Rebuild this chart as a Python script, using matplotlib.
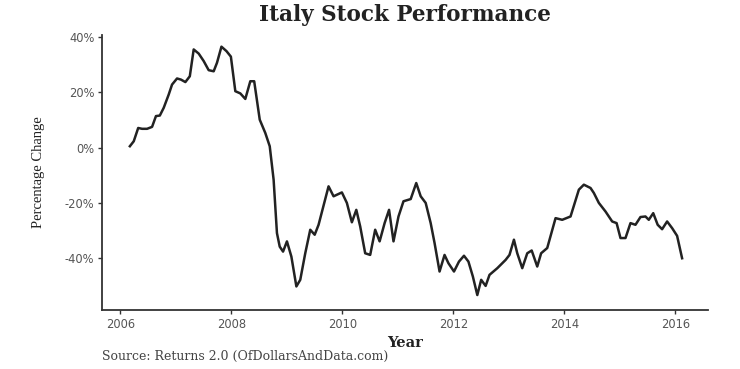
import matplotlib
matplotlib.use('Agg')
import matplotlib.pyplot as plt
from matplotlib.ticker import FuncFormatter

# decimal year and cumulative percentage change
years = [2006.17, 2006.24, 2006.32, 2006.39, 2006.48, 2006.57, 2006.64, 2006.71,
         2006.78, 2006.87, 2006.93, 2007.02, 2007.09, 2007.17, 2007.25, 2007.32,
         2007.41, 2007.50, 2007.59, 2007.68, 2007.74, 2007.82, 2007.91, 2007.99,
         2008.07, 2008.16, 2008.25, 2008.34, 2008.41, 2008.51, 2008.61, 2008.69,
         2008.76, 2008.82, 2008.87, 2008.93, 2009.00, 2009.08, 2009.17, 2009.24,
         2009.33, 2009.42, 2009.50, 2009.57, 2009.75, 2009.84, 2009.99, 2010.08,
         2010.17, 2010.25, 2010.32, 2010.41, 2010.50, 2010.59, 2010.67, 2010.76,
         2010.84, 2010.92, 2011.01, 2011.10, 2011.23, 2011.33, 2011.41, 2011.50,
         2011.59, 2011.66, 2011.75, 2011.84, 2011.91, 2012.01, 2012.10, 2012.19,
         2012.27, 2012.35, 2012.43, 2012.50, 2012.58, 2012.65, 2012.79, 2012.94,
         2013.01, 2013.09, 2013.15, 2013.24, 2013.33, 2013.41, 2013.51, 2013.58,
         2013.69, 2013.84, 2013.96, 2014.11, 2014.26, 2014.35, 2014.47, 2014.53,
         2014.62, 2014.74, 2014.86, 2014.94, 2015.01, 2015.10, 2015.19, 2015.28,
         2015.37, 2015.46, 2015.52, 2015.60, 2015.68, 2015.76, 2015.85, 2015.94,
         2016.03, 2016.12]
pct_change = [0.5, 2.3, 7.1, 6.8, 6.8, 7.5, 11.4, 11.6,
              14.4, 19.2, 22.8, 25.0, 24.6, 23.7, 25.8, 35.5,
              34.0, 31.3, 28.0, 27.6, 30.7, 36.5, 34.9, 32.9,
              20.4, 19.6, 17.6, 24.0, 24.0, 10.1, 5.3, 0.5,
              -11.6, -30.9, -35.8, -37.6, -33.9, -39.4, -50.2, -47.8,
              -38.2, -29.7, -31.5, -27.9, -14.0, -17.6, -16.2, -20.0,
              -27.0, -22.5, -28.5, -38.2, -38.8, -29.7, -33.9, -27.3,
              -22.5, -33.9, -24.9, -19.4, -18.6, -12.8, -17.6, -20.0,
              -27.3, -34.5, -44.8, -38.8, -41.8, -44.8, -41.2, -39.1,
              -41.2, -46.6, -53.3, -47.8, -50.0, -46.0, -43.6, -40.6,
              -38.8, -33.3, -38.2, -43.6, -38.2, -37.2, -43.0, -38.2,
              -36.3, -25.5, -26.1, -24.9, -15.2, -13.4, -14.6, -16.4,
              -20.0, -23.1, -26.7, -27.3, -32.7, -32.7, -27.3, -27.9,
              -25.1, -24.9, -26.1, -23.7, -27.9, -29.5, -26.7, -29.1,
              -31.9, -40.0]

year_ticks = [2006, 2008, 2010, 2012, 2014, 2016]
pct_ticks = [-40, -20, 0, 20, 40]

fig = plt.figure(figsize=(7.4, 3.69), dpi=100)
ax = fig.add_axes([0.138, 0.160, 0.819, 0.745])

ax.plot(years, pct_change, color='#222222', linewidth=1.8)

ax.set_xlim(2005.67, 2016.59)
ax.set_ylim(-58.7, 40.7)
ax.set_xticks(year_ticks)
ax.set_yticks(pct_ticks)
ax.yaxis.set_major_formatter(FuncFormatter(lambda v, p: '%d%%' % v))

for side in ['top', 'right']:
    ax.spines[side].set_visible(False)
for side in ['left', 'bottom']:
    ax.spines[side].set_color('#333333')
    ax.spines[side].set_linewidth(1.3)
ax.tick_params(colors='#333333', labelcolor='#555555', labelsize=8.3, length=3, width=1, pad=2.5)

fig.text(0.547, 0.958, 'Italy Stock Performance', ha='center', va='center',
         fontsize=15.5, fontweight='bold', family='DejaVu Serif', color='#222222')
ax.set_xlabel('Year', fontsize=10.5, fontweight='bold', family='DejaVu Serif', color='#222222', labelpad=4)
ax.set_ylabel('Percentage Change', fontsize=10.5, family='Liberation Serif', color='#222222', labelpad=14)
fig.text(0.138, 0.035, 'Source: Returns 2.0 (OfDollarsAndData.com)', ha='left', va='center',
         fontsize=9, family='DejaVu Serif', color='#444444')

fig.savefig('out.png', dpi=100)
